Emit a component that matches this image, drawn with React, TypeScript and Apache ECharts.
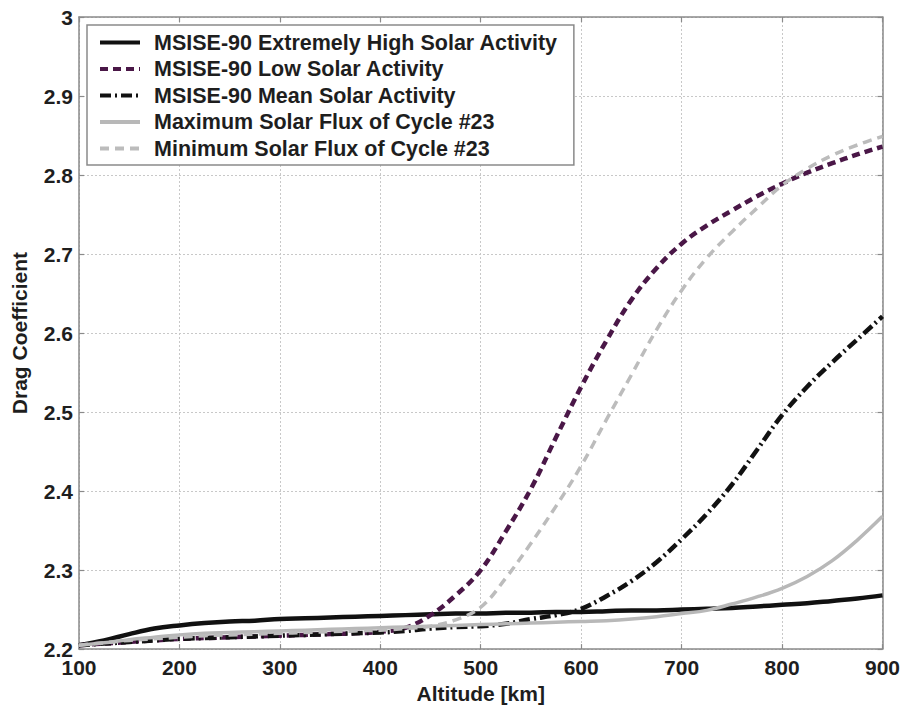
import React, { useEffect, useRef } from "react";
import * as echarts from "echarts";

const altitudes = [
  100, 125, 150, 175, 200, 225, 250, 275, 300, 325, 350, 375, 400, 425, 450, 475, 500,
  525, 550, 575, 600, 625, 650, 675, 700, 725, 750, 775, 800, 825, 850, 875, 900,
];

const extremeHigh = [
  2.205, 2.211, 2.219, 2.226, 2.23, 2.233, 2.235, 2.236, 2.238, 2.239, 2.24, 2.241, 2.242,
  2.243, 2.244, 2.245, 2.245, 2.246, 2.246, 2.247, 2.247, 2.248, 2.249, 2.249, 2.25, 2.251,
  2.252, 2.254, 2.256, 2.258, 2.261, 2.264, 2.268,
];

const lowActivity = [
  2.205, 2.207, 2.209, 2.211, 2.213, 2.214, 2.215, 2.216, 2.217, 2.218, 2.219, 2.22, 2.222,
  2.227, 2.243, 2.268, 2.3, 2.349, 2.403, 2.468, 2.532, 2.59, 2.642, 2.682, 2.713, 2.736,
  2.755, 2.773, 2.789, 2.803, 2.815, 2.826, 2.836,
];

const meanActivity = [
  2.205, 2.207, 2.209, 2.211, 2.213, 2.214, 2.215, 2.216, 2.217, 2.218, 2.219, 2.22, 2.221,
  2.223, 2.226, 2.228, 2.229, 2.232, 2.238, 2.243, 2.251, 2.267, 2.286, 2.31, 2.339, 2.371,
  2.408, 2.452, 2.496, 2.532, 2.563, 2.592, 2.621,
];

const maxFlux = [
  2.205, 2.208, 2.212, 2.215, 2.218, 2.22, 2.221, 2.222, 2.223, 2.224, 2.225, 2.226, 2.227,
  2.228, 2.229, 2.23, 2.231, 2.232, 2.233, 2.234, 2.235, 2.236, 2.238, 2.241, 2.245, 2.249,
  2.257, 2.266, 2.277, 2.292, 2.312, 2.338, 2.368,
];

const minFlux = [
  2.205, 2.208, 2.211, 2.213, 2.215, 2.217, 2.218, 2.219, 2.22, 2.221, 2.222, 2.223, 2.224,
  2.226, 2.229, 2.237, 2.253, 2.29, 2.334, 2.381, 2.432, 2.49, 2.547, 2.604, 2.654, 2.695,
  2.728, 2.758, 2.787, 2.808, 2.825, 2.838, 2.849,
];

const seriesNames = [
  "MSISE-90 Extremely High Solar Activity",
  "MSISE-90 Low Solar Activity",
  "MSISE-90 Mean Solar Activity",
  "Maximum Solar Flux of Cycle #23",
  "Minimum Solar Flux of Cycle #23",
];

const FONT = "'Liberation Sans', Arial, Helvetica, sans-serif";
const TEXT = "#1e1e1e";
const FRAME = "#8a8a8a";

export default function App() {
  const ref = useRef<HTMLDivElement>(null);

  useEffect(() => {
    if (!ref.current) return;
    const chart = echarts.init(ref.current, undefined, { renderer: "svg" });
    const pairs = (vals: number[]) => altitudes.map((a, i) => [a, vals[i]]);

    const styles = [
      { data: extremeHigh, color: "#111111", width: 4.5, type: "solid" as any },
      { data: lowActivity, color: "#4a1747", width: 4.5, type: [8, 5] as any },
      { data: meanActivity, color: "#111111", width: 4.5, type: [11, 4, 2, 4] as any },
      { data: maxFlux, color: "#b8b8b8", width: 3.5, type: "solid" as any },
      { data: minFlux, color: "#bcbcbc", width: 3.5, type: [9, 6] as any },
    ];

    const axisCommonX = {
      type: "value" as const,
      min: 100,
      max: 900,
      interval: 100,
      axisLine: { show: true, onZero: false, lineStyle: { color: FRAME, width: 1.5 } },
      axisTick: { show: true, inside: true, length: 5, lineStyle: { color: FRAME, width: 1.2 } },
    };
    const axisCommonY = {
      type: "value" as const,
      min: 2.2,
      max: 3,
      interval: 0.1,
      axisLine: { show: true, onZero: false, lineStyle: { color: FRAME, width: 1.5 } },
      axisTick: { show: true, inside: true, length: 5, lineStyle: { color: FRAME, width: 1.2 } },
    };

    chart.setOption({
      animation: false,
      backgroundColor: "#ffffff",
      grid: { left: 79, right: 20, top: 17, bottom: 59, containLabel: false },
      xAxis: [
        {
          ...axisCommonX,
          position: "bottom",
          name: "Altitude [km]",
          nameLocation: "middle",
          nameGap: 33,
          nameTextStyle: { fontSize: 21, fontWeight: "bold", color: TEXT, fontFamily: FONT },
          axisLabel: { fontSize: 21, fontWeight: "bold", color: TEXT, fontFamily: FONT, margin: 8 },
          splitLine: { show: true, lineStyle: { color: "#c8c8c8", type: [2, 2], width: 1 } },
        },
        {
          ...axisCommonX,
          position: "top",
          axisLabel: { show: false },
          splitLine: { show: false },
        },
      ],
      yAxis: [
        {
          ...axisCommonY,
          position: "left",
          name: "Drag Coefficient",
          nameLocation: "middle",
          nameGap: 49,
          nameTextStyle: { fontSize: 21, fontWeight: "bold", color: TEXT, fontFamily: FONT },
          axisLabel: { fontSize: 21, fontWeight: "bold", color: TEXT, fontFamily: FONT, margin: 6 },
          splitLine: { show: true, lineStyle: { color: "#c8c8c8", type: [2, 2], width: 1 } },
        },
        {
          ...axisCommonY,
          position: "right",
          axisLabel: { show: false },
          splitLine: { show: false },
        },
      ],
      legend: {
        orient: "vertical",
        left: 87,
        top: 25,
        padding: [6.5, 16, 5.5, 11],
        itemWidth: 40,
        itemHeight: 14,
        itemGap: 4.5,
        borderColor: FRAME,
        borderWidth: 1.5,
        backgroundColor: "#ffffff",
        itemStyle: { opacity: 0, color: "transparent", borderWidth: 0 },
        lineStyle: { width: 4 },
        textStyle: {
          fontSize: 21.5,
          fontWeight: "bold",
          color: TEXT,
          fontFamily: FONT,
          padding: [0, 0, 0, 9],
        },
        data: seriesNames,
      },
      series: styles.map((s, i) => ({
        name: seriesNames[i],
        type: "line",
        xAxisIndex: 0,
        yAxisIndex: 0,
        data: pairs(s.data),
        smooth: 0.4,
        symbol: "none",
        showSymbol: false,
        color: s.color,
        lineStyle: { color: s.color, width: s.width, type: s.type },
        z: 2 + i,
      })),
    });

    return () => chart.dispose();
  }, []);

  return (
    <div
      ref={ref}
      style={{ position: "absolute", left: 0, top: 0, width: 903, height: 709 }}
    />
  );
}
